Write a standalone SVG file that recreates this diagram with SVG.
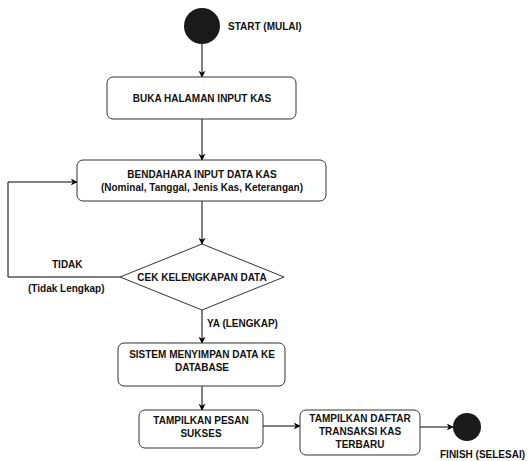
<svg xmlns="http://www.w3.org/2000/svg" width="528" height="461" viewBox="0 0 528 461">
<defs>
<marker id="ah" viewBox="0 0 10 10" refX="9" refY="5" markerWidth="7" markerHeight="7" markerUnits="userSpaceOnUse" orient="auto"><path d="M0,0 L10,5 L0,10 L3,5 Z" fill="#000"/></marker>
<style>
.box{fill:#fff;stroke:#333;stroke-width:1}
.t{font-family:"Liberation Sans",Arial,sans-serif;font-size:10px;font-weight:bold;fill:#111;text-anchor:middle}
.l{font-family:"Liberation Sans",Arial,sans-serif;font-size:10px;font-weight:bold;fill:#111}
.c{fill:none;stroke:#000;stroke-width:1;marker-end:url(#ah)}
.dot{fill:#1a1a1a}
</style>
</defs>
<rect width="528" height="461" fill="#fff"/>
<g id="connectors">
<path class="c" d="M202,44 V77"/>
<path class="c" d="M202,119 V160"/>
<path class="c" d="M202,201 V244"/>
<path class="c" d="M120,277 H8 V182 H77"/>
<path class="c" d="M202,310 V343"/>
<path class="c" d="M202,386 V410"/>
<path class="c" d="M263,426 H300"/>
<path class="c" d="M420,427 H453"/>
<text class="l" x="52" y="268">TIDAK</text>
<text class="l" x="28" y="292">(Tidak Lengkap)</text>
<text class="l" x="207" y="327">YA (LENGKAP)</text>
</g>
<g id="start">
<circle class="dot" cx="202" cy="26" r="18"/>
<text class="l" x="228" y="30">START (MULAI)</text>
</g>
<g id="buka">
<rect class="box" x="107" y="77" width="189" height="42" rx="6"/>
<text class="t" x="202" y="102">BUKA HALAMAN INPUT KAS</text>
</g>
<g id="input">
<rect class="box" x="77" y="160" width="249" height="41" rx="6"/>
<text class="t" x="202" y="178">BENDAHARA INPUT DATA KAS</text>
<text class="t" x="202" y="191">(Nominal, Tanggal, Jenis Kas, Keterangan)</text>
</g>
<g id="cek">
<polygon class="box" points="202,244 284,277 202,310 120,277"/>
<text class="t" x="202" y="281">CEK KELENGKAPAN DATA</text>
</g>
<g id="simpan">
<rect class="box" x="118" y="343" width="167" height="43" rx="6"/>
<text class="t" x="202" y="358">SISTEM MENYIMPAN DATA KE</text>
<text class="t" x="202" y="371">DATABASE</text>
</g>
<g id="sukses">
<rect class="box" x="139" y="410" width="124" height="38" rx="6"/>
<text class="t" x="201" y="424">TAMPILKAN PESAN</text>
<text class="t" x="201" y="437">SUKSES</text>
</g>
<g id="daftar">
<rect class="box" x="300" y="410" width="120" height="45" rx="6"/>
<text class="t" x="360" y="422">TAMPILKAN DAFTAR</text>
<text class="t" x="360" y="435">TRANSAKSI KAS</text>
<text class="t" x="360" y="448">TERBARU</text>
</g>
<g id="finish">
<circle class="dot" cx="467" cy="427" r="14"/>
<text class="l" x="440" y="458">FINISH (SELESAI)</text>
</g>
</svg>
